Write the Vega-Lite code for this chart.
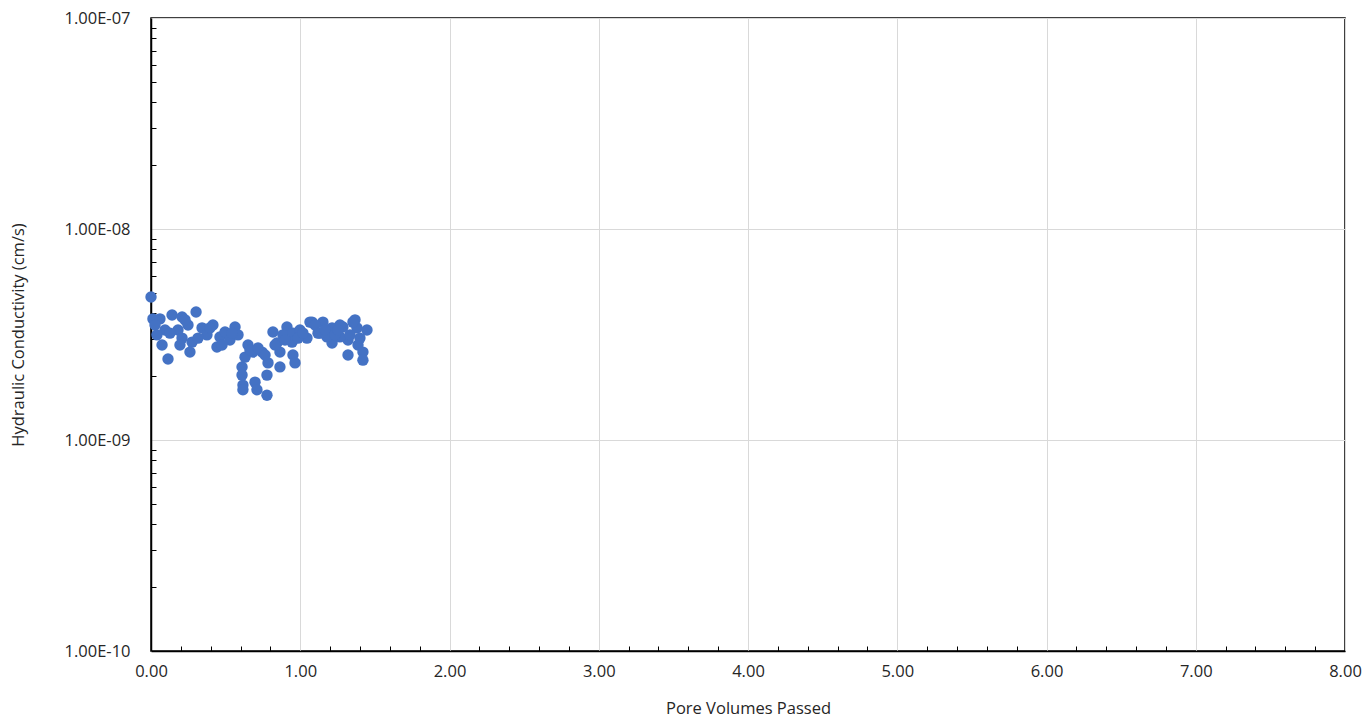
{
  "$schema": "https://vega.github.io/schema/vega-lite/v6.json",
  "width": 1194,
  "height": 633,
  "autosize": {"type": "none"},
  "padding": {"left": 151, "top": 18, "right": 23, "bottom": 72},
  "background": "white",
  "config": {
    "view": {"stroke": "#000000", "strokeWidth": 1.5},
    "font": "Open Sans",
    "axis": {"labelFont": "Open Sans", "titleFont": "Open Sans", "labelColor": "#262626", "titleColor": "#262626", "titleFontWeight": "normal", "labelFontSize": 16.5, "titleFontSize": 16.5}
  },
  "data": {"values": [
    {"pv": 0.000, "k": 4.76e-9},
    {"pv": 0.013, "k": 3.75e-9},
    {"pv": 0.060, "k": 3.75e-9},
    {"pv": 0.094, "k": 3.32e-9},
    {"pv": 0.040, "k": 3.15e-9},
    {"pv": 0.074, "k": 2.82e-9},
    {"pv": 0.114, "k": 2.42e-9},
    {"pv": 0.141, "k": 3.91e-9},
    {"pv": 0.208, "k": 3.83e-9},
    {"pv": 0.248, "k": 3.51e-9},
    {"pv": 0.302, "k": 4.04e-9},
    {"pv": 0.181, "k": 3.32e-9},
    {"pv": 0.208, "k": 3.04e-9},
    {"pv": 0.194, "k": 2.82e-9},
    {"pv": 0.275, "k": 2.91e-9},
    {"pv": 0.261, "k": 2.61e-9},
    {"pv": 0.342, "k": 3.40e-9},
    {"pv": 0.375, "k": 3.15e-9},
    {"pv": 0.415, "k": 3.51e-9},
    {"pv": 0.442, "k": 2.76e-9},
    {"pv": 0.462, "k": 3.08e-9},
    {"pv": 0.496, "k": 3.25e-9},
    {"pv": 0.529, "k": 2.98e-9},
    {"pv": 0.563, "k": 3.43e-9},
    {"pv": 0.583, "k": 3.15e-9},
    {"pv": 0.650, "k": 2.82e-9},
    {"pv": 0.610, "k": 2.22e-9},
    {"pv": 0.610, "k": 2.03e-9},
    {"pv": 0.616, "k": 1.82e-9},
    {"pv": 0.616, "k": 1.73e-9},
    {"pv": 0.697, "k": 1.88e-9},
    {"pv": 0.710, "k": 1.73e-9},
    {"pv": 0.744, "k": 2.61e-9},
    {"pv": 0.817, "k": 3.25e-9},
    {"pv": 0.784, "k": 2.32e-9},
    {"pv": 0.777, "k": 1.63e-9},
    {"pv": 0.683, "k": 2.61e-9},
    {"pv": 0.630, "k": 2.47e-9},
    {"pv": 0.864, "k": 2.22e-9},
    {"pv": 0.844, "k": 2.88e-9},
    {"pv": 0.911, "k": 3.43e-9},
    {"pv": 0.884, "k": 3.15e-9},
    {"pv": 0.951, "k": 3.21e-9},
    {"pv": 0.998, "k": 3.32e-9},
    {"pv": 1.045, "k": 3.04e-9},
    {"pv": 0.945, "k": 2.91e-9},
    {"pv": 0.864, "k": 2.61e-9},
    {"pv": 0.951, "k": 2.53e-9},
    {"pv": 0.965, "k": 2.32e-9},
    {"pv": 0.777, "k": 2.03e-9},
    {"pv": 1.079, "k": 3.62e-9},
    {"pv": 1.152, "k": 3.62e-9},
    {"pv": 1.119, "k": 3.21e-9},
    {"pv": 1.213, "k": 3.40e-9},
    {"pv": 1.213, "k": 2.88e-9},
    {"pv": 1.286, "k": 3.43e-9},
    {"pv": 1.367, "k": 3.71e-9},
    {"pv": 1.380, "k": 3.40e-9},
    {"pv": 1.447, "k": 3.32e-9},
    {"pv": 1.320, "k": 2.98e-9},
    {"pv": 1.387, "k": 2.82e-9},
    {"pv": 1.420, "k": 2.61e-9},
    {"pv": 1.320, "k": 2.53e-9},
    {"pv": 1.420, "k": 2.39e-9},
    {"pv": 1.266, "k": 3.08e-9},
    {"pv": 1.179, "k": 3.08e-9},
    {"pv": 1.353, "k": 3.62e-9},
    {"pv": 1.266, "k": 3.51e-9},
    {"pv": 0.027, "k": 3.51e-9},
    {"pv": 0.127, "k": 3.21e-9},
    {"pv": 0.228, "k": 3.71e-9},
    {"pv": 0.315, "k": 3.04e-9},
    {"pv": 0.395, "k": 3.40e-9},
    {"pv": 0.476, "k": 2.82e-9},
    {"pv": 0.543, "k": 3.21e-9},
    {"pv": 0.663, "k": 2.67e-9},
    {"pv": 0.717, "k": 2.73e-9},
    {"pv": 0.764, "k": 2.53e-9},
    {"pv": 0.831, "k": 2.82e-9},
    {"pv": 0.898, "k": 2.98e-9},
    {"pv": 0.985, "k": 3.04e-9},
    {"pv": 1.018, "k": 3.21e-9},
    {"pv": 1.065, "k": 3.62e-9},
    {"pv": 1.099, "k": 3.51e-9},
    {"pv": 1.132, "k": 3.21e-9},
    {"pv": 1.166, "k": 3.32e-9},
    {"pv": 1.233, "k": 3.15e-9},
    {"pv": 1.253, "k": 3.32e-9},
    {"pv": 1.333, "k": 3.15e-9},
    {"pv": 1.400, "k": 3.04e-9}
  ]},
  "mark": {"type": "point", "filled": true, "shape": "circle", "size": 130, "opacity": 1, "color": "#4472C4"},
  "encoding": {
    "x": {
      "field": "pv", "type": "quantitative",
      "scale": {"domain": [0, 8], "nice": false, "zero": false},
      "axis": {
        "title": "Pore Volumes Passed",
        "titlePadding": 21,
        "values": [0,0.2,0.4,0.6,0.8,1,1.2,1.4,1.6,1.8,2,2.2,2.4,2.6,2.8,3,3.2,3.4,3.6,3.8,4,4.2,4.4,4.6,4.8,5,5.2,5.4,5.6,5.8,6,6.2,6.4,6.6,6.8,7,7.2,7.4,7.6,7.8,8],
        "labelExpr": "abs(datum.value - round(datum.value)) < 0.001 ? format(datum.value, '.2f') : ''",
        "labelPadding": 17,
        "labelFlush": false,
        "labelOverlap": false,
        "domainColor": "#000000",
        "domainWidth": 1.5,
        "tickColor": "#000000",
        "tickSize": -5,
        "tickWidth": 1,
        "tickOpacity": {"condition": {"test": "abs(datum.value - round(datum.value)) < 0.001", "value": 0}, "value": 1},
        "grid": true,
        "gridColor": "#d9d9d9",
        "gridWidth": 1,
        "gridOpacity": {"condition": {"test": "abs(datum.value - round(datum.value)) < 0.001", "value": 1}, "value": 0}
      }
    },
    "y": {
      "field": "k", "type": "quantitative",
      "scale": {"type": "log", "domain": [1e-10, 1e-7], "nice": false},
      "axis": {
        "title": "Hydraulic Conductivity (cm/s)",
        "titlePadding": 38,
        "values": [1e-10,2e-10,3e-10,4e-10,5e-10,6e-10,7e-10,8e-10,9e-10,1e-9,2e-9,3e-9,4e-9,5e-9,6e-9,7e-9,8e-9,9e-9,1e-8,2e-8,3e-8,4e-8,5e-8,6e-8,7e-8,8e-8,9e-8,1e-7],
        "labelExpr": "abs(log(datum.value)/LN10 - round(log(datum.value)/LN10)) < 0.001 ? '1.00E-' + (round(-log(datum.value)/LN10) < 10 ? '0' : '') + round(-log(datum.value)/LN10) : ''",
        "labelPadding": 26,
        "labelFlush": false,
        "labelOverlap": false,
        "domainColor": "#000000",
        "domainWidth": 1.5,
        "tickColor": "#000000",
        "tickSize": -5,
        "tickWidth": 1,
        "tickOpacity": {"condition": {"test": "abs(log(datum.value)/LN10 - round(log(datum.value)/LN10)) < 0.001", "value": 0}, "value": 1},
        "grid": true,
        "gridColor": "#d9d9d9",
        "gridWidth": 1,
        "gridOpacity": {"condition": {"test": "abs(log(datum.value)/LN10 - round(log(datum.value)/LN10)) < 0.001", "value": 1}, "value": 0}
      }
    }
  }
}
